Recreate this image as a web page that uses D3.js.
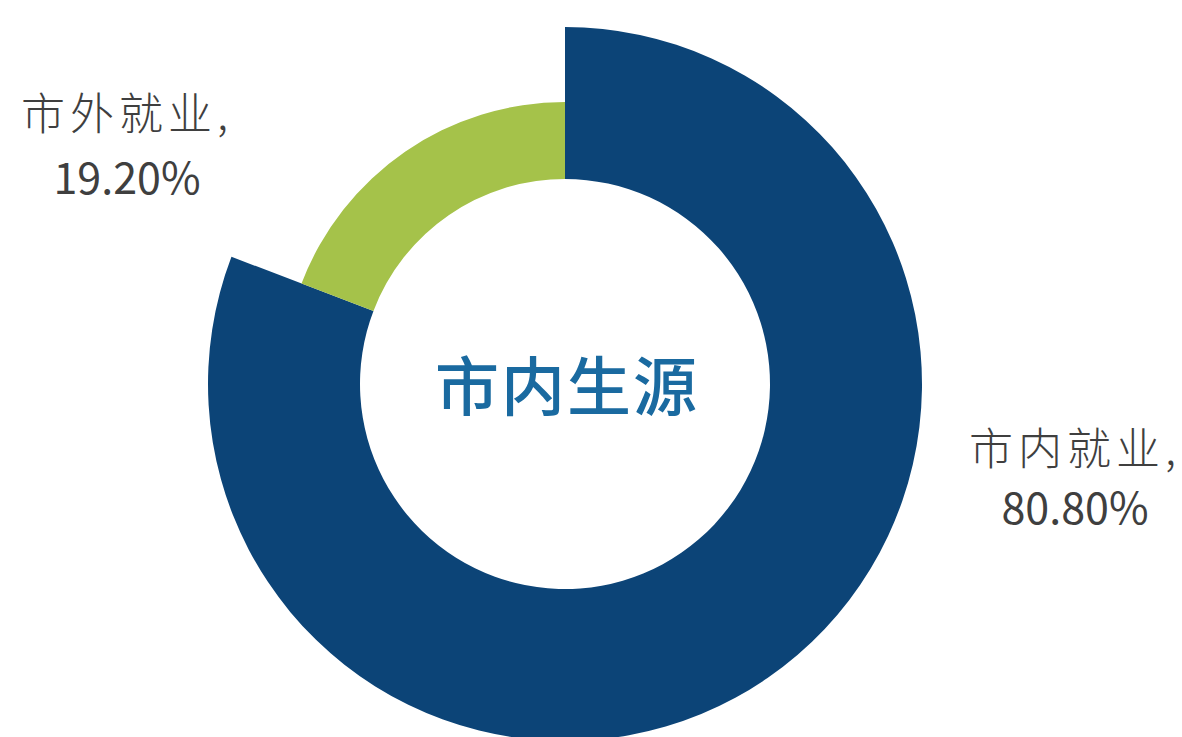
<!DOCTYPE html>
<html>
<head>
<meta charset="utf-8">
<script src="https://cdn.jsdelivr.net/npm/d3@7/dist/d3.min.js"></script>
<style>
  html, body { margin: 0; padding: 0; background: #ffffff; }
  svg { display: block; }
</style>
</head>
<body>
<svg id="chart" width="1182" height="737"></svg>
<script>
// Employment destination of local graduates
const categories = ["市内就业", "市外就业"];
const shares = [80.80, 19.20];
const valueLabels = ["80.80%", "19.20%"];
const centerTitle = "市内生源";

const colors = ["#0c4477", "#a5c24a"];

const svg = d3.select("#chart");
const cx = 565, cy = 384;
const innerR = 205;
const outerR = [357, 282];

const pie = d3.pie().sort(null).value(d => d.value).startAngle(0).endAngle(2 * Math.PI);
const data = categories.map((c, i) => ({ name: c, value: shares[i], label: valueLabels[i], idx: i }));
const arcs = pie(data);

const arc = d3.arc()
  .innerRadius(innerR)
  .outerRadius(d => outerR[d.data.idx]);

const g = svg.append("g").attr("transform", `translate(${cx},${cy})`);

g.selectAll("path.slice")
  .data(arcs)
  .join("path")
  .attr("class", "slice")
  .attr("d", arc)
  .attr("fill", d => colors[d.data.idx]);

// Centre caption
g.append("text")
  .attr("x", 2)
  .attr("y", 9)
  .attr("text-anchor", "middle")
  .attr("dominant-baseline", "middle")
  .attr("font-family", "'Noto Sans CJK SC', 'Noto Sans', sans-serif")
  .attr("font-weight", 500)
  .attr("font-size", 64)
  .attr("letter-spacing", 2)
  .attr("fill", "#1a6aa0")
  .text(centerTitle);

// Slice labels: name on the first line, share on the second
const labelPos = [
  { x: 1075, y1: 465, y2: 524 },
  { x: 127, y1: 130, y2: 194 }
];

const labelFont = "'Noto Sans CJK SC', 'Noto Sans', sans-serif";

svg.selectAll("text.slice-name")
  .data(arcs)
  .join("text")
  .attr("class", "slice-name")
  .attr("text-anchor", "middle")
  .attr("font-family", labelFont)
  .attr("font-weight", 300)
  .attr("font-size", 44)
  .attr("letter-spacing", 5)
  .attr("fill", "#3f3f3f")
  .attr("x", d => labelPos[d.data.idx].x)
  .attr("y", d => labelPos[d.data.idx].y1)
  .text(d => d.data.name + ",");

svg.selectAll("text.slice-value")
  .data(arcs)
  .join("text")
  .attr("class", "slice-value")
  .attr("text-anchor", "middle")
  .attr("font-family", labelFont)
  .attr("font-size", 43)
  .attr("fill", "#3f3f3f")
  .attr("x", d => labelPos[d.data.idx].x)
  .attr("y", d => labelPos[d.data.idx].y2)
  .text(d => d.data.label);
</script>
</body>
</html>
